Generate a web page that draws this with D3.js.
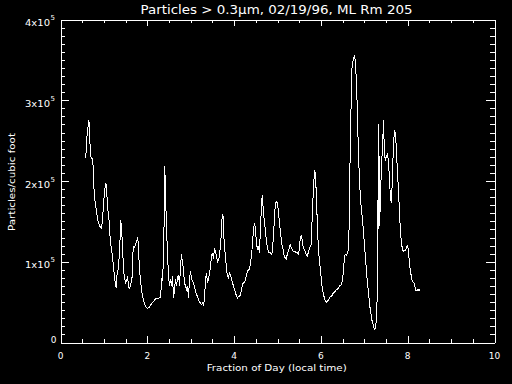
<!DOCTYPE html>
<html><head><meta charset="utf-8">
<script src="https://cdn.jsdelivr.net/npm/d3@7"></script>
<style>html,body{margin:0;padding:0;background:#000;overflow:hidden}svg{display:block}</style>
</head><body><svg id="c" width="512" height="384"></svg>
<script>
// Fraction of day (local time)
const times = [
0.583,0.599,0.629,0.652,0.675,0.684,0.714,0.737,0.753,0.767,0.790,0.823,0.859,0.899,0.938,0.968,0.991,1.021,1.044,1.067,
1.076,1.099,1.122,1.145,1.175,1.205,1.228,1.260,1.283,1.306,1.329,1.353,1.376,1.389,1.412,1.429,1.445,1.468,1.498,1.521,
1.544,1.560,1.583,1.606,1.629,1.652,1.675,1.698,1.721,1.744,1.767,1.781,1.797,1.820,1.843,1.866,1.889,1.919,1.959,1.998,
2.035,2.074,2.113,2.150,2.189,2.228,2.265,2.304,2.327,2.343,2.357,2.373,2.389,2.403,
2.419,2.442,2.465,2.488,2.512,2.535,2.558,2.581,2.604,2.627,2.650,2.673,2.696,2.719,2.742,2.765,2.788,2.811,2.834,2.857,
2.880,2.903,2.926,2.949,2.972,2.995,3.018,3.041,3.065,3.088,3.111,3.134,3.157,3.180,3.203,3.226,3.249,3.272,3.295,3.318,
3.341,3.364,3.387,3.410,3.433,3.456,3.479,3.502,3.525,3.548,3.571,3.594,3.618,3.641,3.664,3.687,3.710,3.726,3.749,3.763,
3.786,3.809,3.825,3.848,3.871,3.894,3.917,3.940,3.963,3.986,4.009,4.032,4.055,4.078,4.101,4.124,4.147,4.171,4.194,4.217,
4.240,4.263,4.286,4.309,4.332,4.355,4.378,
4.401,4.424,4.447,4.470,4.493,4.516,4.539,4.562,4.585,4.608,4.631,4.648,4.671,4.694,4.717,4.740,4.763,4.786,4.809,4.832,
4.855,4.878,4.901,4.924,4.947,4.970,4.993,5.016,5.039,5.062,5.085,5.108,5.131,5.154,5.177,5.201,5.224,5.247,5.270,5.293,
5.316,5.339,5.362,5.385,5.408,5.431,5.454,5.477,5.500,5.523,5.546,5.569,5.592,5.615,5.638,5.661,5.684,5.707,5.730,5.754,
5.777,5.800,5.823,5.846,5.859,5.876,5.899,5.922,5.945,5.968,5.991,6.014,6.037,6.060,6.083,6.106,6.129,6.152,6.175,6.198,
6.221,6.244,6.267,6.290,6.313,6.336,6.359,6.382,6.406,6.429,6.452,6.475,
6.498,6.521,6.544,6.567,6.590,6.613,6.636,6.652,6.666,6.682,6.698,6.712,6.735,6.758,6.774,6.790,6.804,6.820,6.836,6.850,
6.873,6.896,6.919,6.942,6.965,6.988,7.012,7.035,7.058,7.081,7.104,7.127,7.150,7.173,7.196,7.219,7.242,7.258,7.274,7.288,
7.304,7.311,7.327,7.334,7.350,7.373,7.396,7.419,7.442,7.465,7.488,7.512,7.535,7.558,7.581,7.604,7.627,7.650,7.673,7.696,
7.719,7.742,7.765,7.788,7.811,7.834,7.857,7.880,7.903,7.926,7.949,7.972,7.995,8.012,8.025,8.048,8.071,8.095,8.118,8.141,
8.164,8.187,8.210,8.233,8.256,8.279
];
// Particles per cubic foot
const counts = [
228000,251000,264000,275000,266000,231000,229000,227000,218000,194000,177000,165000,152000,144000,142000,149000,173000,189000,198000,189000,
173000,161000,149000,128000,115000,103000,90000,74000,68000,87000,90000,107000,132000,152000,136000,119000,99000,82000,74000,76000,
82000,74000,66000,70000,74000,82000,119000,118000,120000,124000,128000,130000,115000,90000,78000,66000,57000,51000,45000,42000,
43000,46000,49000,51000,54000,55000,55000,56000,74000,82000,76000,124000,149000,218000,
185000,144000,111000,82000,70000,78000,70000,82000,55000,66000,78000,70000,80000,84000,70000,94000,109000,99000,90000,74000,
70000,66000,70000,55000,78000,88000,80000,76000,74000,68000,64000,59000,57000,53000,49000,49000,47000,49000,47000,53000,
78000,86000,74000,78000,86000,93000,107000,111000,103000,117000,113000,107000,99000,103000,107000,123000,136000,159000,156000,132000,
115000,103000,90000,82000,80000,86000,84000,78000,74000,70000,66000,62000,57000,55000,57000,57000,59000,66000,72000,74000,
75000,78000,84000,88000,90000,90000,99000,
107000,123000,140000,148000,140000,123000,115000,119000,111000,144000,169000,183000,165000,152000,140000,128000,119000,113000,111000,111000,
109000,111000,128000,148000,169000,175000,173000,165000,152000,140000,128000,119000,115000,107000,105000,103000,109000,113000,117000,121000,
117000,115000,113000,113000,113000,111000,111000,109000,115000,128000,132000,128000,117000,115000,113000,109000,107000,111000,115000,119000,
121000,156000,185000,206000,214000,206000,177000,140000,115000,99000,90000,74000,66000,59000,55000,51000,50000,51000,53000,55000,
57000,57000,59000,62000,62000,64000,66000,66000,68000,70000,71000,72000,
78000,90000,107000,109000,108000,111000,115000,148000,210000,251000,301000,338000,348000,353000,355000,350000,338000,322000,293000,264000,
223000,194000,173000,161000,148000,132000,115000,99000,82000,70000,57000,45000,37000,28000,24000,18000,16000,20000,26000,33000,
87000,177000,140000,271000,144000,177000,223000,239000,276000,231000,227000,231000,233000,223000,202000,177000,173000,210000,247000,262000,
260000,235000,210000,189000,161000,136000,123000,115000,113000,114000,114000,117000,121000,115000,107000,94000,86000,78000,75000,74000,
70000,64000,64000,66000,64000,66000
];
const xMajorTicks = [0, 2, 4, 6, 8, 10];
const xMinorTicks = [0.5,1,1.5,2.5,3,3.5,4.5,5,5.5,6.5,7,7.5,8.5,9,9.5];
const yMajorTicks = [0, 100000, 200000, 300000, 400000];
const yMantissa = ["0", "1", "2", "3", "4"];
const yExponent = "5";
const titleText = "Particles > 0.3\u03BCm, 02/19/96, ML Rm 205";
const xTitle = "Fraction of Day (local time)";
const yTitle = "Particles/cubic foot";

const svg = d3.select("#c");
svg.append("rect").attr("width", 512).attr("height", 384).attr("fill", "#000");
const FONT = "DejaVu Sans, sans-serif";

const x = d3.scaleLinear().domain([0, 10]).range([60.5, 494.5]);
const y = d3.scaleLinear().domain([0, 400000]).range([342.5, 19.5]);
const yMinor = d3.range(10000, 400000, 10000).filter(v => v % 100000 !== 0);

function styleAxis(g) {
  g.attr("color", "#fff").attr("shape-rendering", "crispEdges");
  g.selectAll("text").remove();
  g.selectAll("path.domain").attr("stroke-width", 1);
}
const xl = 6.5, yl = 8.7;
svg.append("g").attr("transform", `translate(0,${y(0)})`)
  .call(d3.axisBottom(x).tickValues(xMajorTicks).tickSizeInner(-xl).tickSizeOuter(0).tickFormat("")).call(styleAxis);
svg.append("g").attr("transform", `translate(0,${y(0)})`)
  .call(d3.axisBottom(x).tickValues(xMinorTicks).tickSizeInner(-xl/2).tickSizeOuter(0).tickFormat("")).call(styleAxis);
svg.append("g").attr("transform", `translate(0,${y(400000)})`)
  .call(d3.axisTop(x).tickValues(xMajorTicks).tickSizeInner(-xl).tickSizeOuter(0).tickFormat("")).call(styleAxis);
svg.append("g").attr("transform", `translate(0,${y(400000)})`)
  .call(d3.axisTop(x).tickValues(xMinorTicks).tickSizeInner(-xl/2).tickSizeOuter(0).tickFormat("")).call(styleAxis);
svg.append("g").attr("transform", `translate(${x(0)},0)`)
  .call(d3.axisLeft(y).tickValues(yMajorTicks).tickSizeInner(-yl).tickSizeOuter(0).tickFormat("")).call(styleAxis);
svg.append("g").attr("transform", `translate(${x(0)},0)`)
  .call(d3.axisLeft(y).tickValues(yMinor).tickSizeInner(-yl/2).tickSizeOuter(0).tickFormat("")).call(styleAxis);
svg.append("g").attr("transform", `translate(${x(10)},0)`)
  .call(d3.axisRight(y).tickValues(yMajorTicks).tickSizeInner(-yl).tickSizeOuter(0).tickFormat("")).call(styleAxis);
svg.append("g").attr("transform", `translate(${x(10)},0)`)
  .call(d3.axisRight(y).tickValues(yMinor).tickSizeInner(-yl/2).tickSizeOuter(0).tickFormat("")).call(styleAxis);

// x tick labels
svg.append("g").selectAll("text").data(xMajorTicks).join("text")
  .attr("x", d => x(d)).attr("y", 359).attr("text-anchor", "middle")
  .attr("fill", "#fff").attr("font-family", FONT).attr("font-size", 9)
  .text(d => String(d));

// y tick labels
const yl_g = svg.append("g");
yMajorTicks.forEach((v, i) => {
  if (v === 0) {
    yl_g.append("text").attr("x", 56.5).attr("y", y(v) + 0.5).attr("text-anchor", "end")
      .attr("fill", "#fff").attr("font-family", FONT).attr("font-size", 9).text(yMantissa[i]);
  } else {
    yl_g.append("text").attr("x", 50).attr("y", y(v) + 6.5).attr("text-anchor", "end")
      .attr("fill", "#fff").attr("font-family", FONT).attr("font-size", 9)
      .attr("textLength", 25).attr("lengthAdjust", "spacingAndGlyphs")
      .text(yMantissa[i] + "x10");
    yl_g.append("text").attr("x", 50.5).attr("y", y(v) + 0.5).attr("text-anchor", "start")
      .attr("fill", "#fff").attr("font-family", FONT).attr("font-size", 7).text(yExponent);
  }
});

// titles
svg.append("text").attr("x", 276.5).attr("y", 14).attr("text-anchor", "middle")
  .attr("fill", "#fff").attr("font-family", FONT).attr("font-size", 12)
  .attr("textLength", 272).attr("lengthAdjust", "spacingAndGlyphs").text(titleText);
svg.append("text").attr("x", 276.7).attr("y", 371).attr("text-anchor", "middle")
  .attr("fill", "#fff").attr("font-family", FONT).attr("font-size", 9.5)
  .attr("textLength", 140).attr("lengthAdjust", "spacingAndGlyphs").text(xTitle);
svg.append("text").attr("transform", "translate(15,182) rotate(-90)").attr("text-anchor", "middle")
  .attr("fill", "#fff").attr("font-family", FONT).attr("font-size", 9.5)
  .attr("textLength", 98).attr("lengthAdjust", "spacingAndGlyphs").text(yTitle);

// data line
const pts = times.map((t, i) => [t, counts[i]]);
svg.append("path").datum(pts)
  .attr("fill", "none").attr("stroke", "#fff").attr("stroke-width", 1)
  .attr("shape-rendering", "crispEdges")
  .attr("d", d3.line().x(d => x(d[0])).y(d => y(d[1])));
</script></body></html>
